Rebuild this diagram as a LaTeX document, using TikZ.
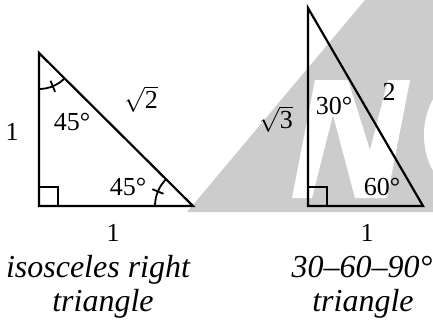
\documentclass[tikz,border=0pt]{standalone}
\usepackage{fontspec}
\setmainfont{Liberation Serif}
\begin{document}
\begin{tikzpicture}[x=1pt,y=-1pt,
  tri/.style={line width=2.2pt, line join=miter},
  sq/.style={line width=1.8pt},
  ang/.style={line width=1.8pt},
  lbl/.style={inner sep=0pt, font=\fontsize{26}{30}\selectfont},
  captxt/.style={inner sep=0pt, anchor=base, font=\fontsize{32}{36}\selectfont\itshape}]
\useasboundingbox (0,0) rectangle (433,330);
% watermark
\fill[black!20] (187,212) -- (365,0) -- (433,0) -- (433,212) -- cycle;
\begin{scope}
\clip (187,212) -- (365,0) -- (433,0) -- (433,212) -- cycle;
\fill[white] (292,198) -- (315,80) -- (348,80) -- (370,150) -- (388,80) -- (410,80)
  -- (387,198) -- (355,198) -- (333,115) -- (312,198) -- cycle;
\fill[white] (470,135) ellipse [x radius=46, y radius=60];
\end{scope}
% isosceles right triangle
\coordinate (A1) at (39,53);
\coordinate (B1) at (39,206);
\coordinate (C1) at (193,206);
\draw[tri] (A1) -- (B1) -- (C1) -- cycle;
\draw[sq] (B1) ++(0,-19) -- ++(19,0) -- ++(0,19);
\draw[ang] (A1) ++(45:36) arc[start angle=45, end angle=90, radius=36];
\draw[ang] (A1) ++(67.5:30) -- ++(67.5:12);
\draw[ang] (C1) ++(180:38) arc[start angle=180, end angle=225, radius=38];
\draw[ang] (C1) ++(202.5:32) -- ++(202.5:12);
\node[lbl] (l1) at (12,132) {1};
\node[lbl] (lr2) at (141,99) {$\sqrt{\mbox{2}}$};
\node[lbl] (a45t) at (72,122) {45°};
\node[lbl] (a45b) at (128,187) {45°};
\node[lbl] (b1) at (113,233) {1};
\node[captxt] (c1a) at (98,277) {isosceles right};
\node[captxt] (c1b) at (103,311) {triangle};
% 30-60-90 triangle
\coordinate (A2) at (308,8);
\coordinate (B2) at (308,206);
\coordinate (C2) at (423,206);
\draw[tri] (A2) -- (B2) -- (C2) -- cycle;
\draw[sq] (B2) ++(0,-19) -- ++(19,0) -- ++(0,19);
\node[lbl] (r3) at (276,119) {$\sqrt{\mbox{3}}$};
\node[lbl] (a30) at (334,106) {30°};
\node[lbl] (h2) at (389,92) {2};
\node[lbl] (a60) at (382,187) {60°};
\node[lbl] (b2) at (367,233) {1};
\node[captxt] (c2a) at (362,277) {30–60–90°};
\node[captxt] (c2b) at (363,311) {triangle};
\end{tikzpicture}
\end{document}
